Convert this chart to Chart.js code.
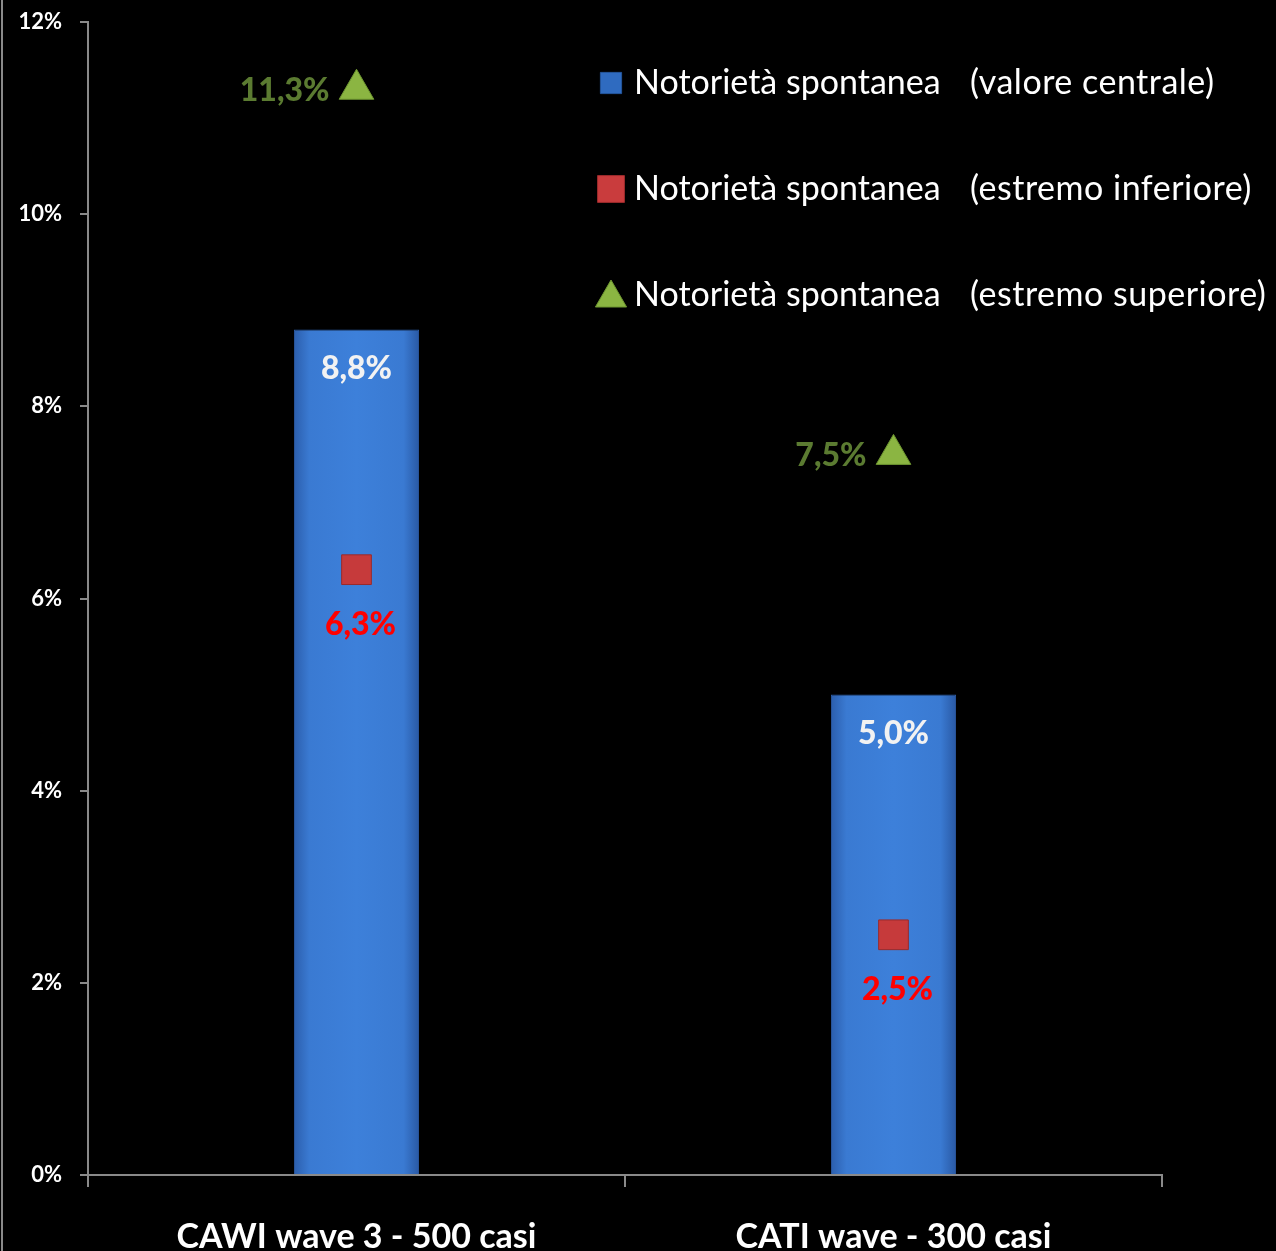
<!DOCTYPE html>
<html>
<head>
<meta charset="utf-8">
<script src="https://cdn.jsdelivr.net/npm/chart.js@4.4.1/dist/chart.umd.min.js"></script>
<style>
    html, body { margin: 0; padding: 0; background: #000; }
    canvas { display: block; }
</style>
</head>
<body>
<canvas id="notorieta" width="1276" height="1251"></canvas>
<script>
// ========================================
// DATA
// ========================================
const categories = ['CAWI wave 3 - 500 casi', 'CATI wave - 300 casi'];
const centralValues = [8.8, 5.0];   // valore centrale (barre)
const lowerValues = [6.3, 2.5];     // estremo inferiore
const upperValues = [11.3, 7.5];    // estremo superiore
const seriesName = 'Notorietà spontanea';
const seriesNotes = ['(valore centrale)', '(estremo inferiore)', '(estremo superiore)'];
const yMax = 12;
const yStep = 2;

const FONT = 'Lato, "Open Sans", sans-serif';

// Format numbers the Italian way: 8.8 -> "8,8%"
function formatPct(v) {
    return v.toFixed(1).replace('.', ',') + '%';
}

// Horizontal gradient for the bars (darker edges, lighter middle)
function barGradient(context) {
    const chart = context.chart;
    if (!chart.chartArea || context.dataIndex === undefined) return '#3a7bd5';
    const x = chart.scales.x.getPixelForValue(context.dataIndex);
    const w = 62;
    const g = chart.ctx.createLinearGradient(x - w, 0, x + w, 0);
    g.addColorStop(0, '#2c5fae');
    g.addColorStop(0.12, '#3a7ad2');
    g.addColorStop(0.5, '#3d80da');
    g.addColorStop(0.88, '#3a7ad2');
    g.addColorStop(1, '#2a5aa6');
    return g;
}

// Black background plus the thin frame line on the left
const backgroundPlugin = {
    id: 'background',
    beforeDraw(chart) {
        const ctx = chart.ctx;
        ctx.save();
        ctx.fillStyle = '#000';
        ctx.fillRect(0, 0, chart.width, chart.height);
        ctx.strokeStyle = '#8a8a8a';
        ctx.lineWidth = 2;
        ctx.beginPath();
        ctx.moveTo(2, 0);
        ctx.lineTo(2, chart.height);
        ctx.stroke();
        ctx.restore();
    }
};

// Value labels for bars and markers
const labelsPlugin = {
    id: 'valueLabels',
    afterDatasetsDraw(chart) {
        const ctx = chart.ctx;
        ctx.save();
        ctx.font = '900 32px ' + FONT;
        ctx.textBaseline = 'middle';

        chart.getDatasetMeta(0).data.forEach((bar, i) => {
            ctx.fillStyle = '#f2f2f2';
            ctx.textAlign = 'center';
            ctx.fillText(formatPct(centralValues[i]), bar.x, bar.y + 39);
        });

        chart.getDatasetMeta(1).data.forEach((pt, i) => {
            ctx.fillStyle = '#ff0000';
            ctx.textAlign = 'center';
            ctx.fillText(formatPct(lowerValues[i]), pt.x + 4, pt.y + 55);
        });

        chart.getDatasetMeta(2).data.forEach((pt, i) => {
            ctx.fillStyle = '#5b7b31';
            ctx.textAlign = 'right';
            ctx.fillText(formatPct(upperValues[i]), pt.x - 27, pt.y + 1);
        });
        ctx.restore();
    }
};

// Legend drawn in the upper right of the plot
const legendPlugin = {
    id: 'sideLegend',
    afterDraw(chart) {
        const ctx = chart.ctx;
        const rows = [83, 189, 295];
        const styles = [
            { style: 'rect', radius: 15, fill: '#2f6bc0', border: '#24559c' },
            { style: 'rect', radius: 19, fill: '#c93c3d', border: '#9d2b2c' },
            { style: 'triangle', radius: 18, fill: '#8bb542', border: '#6d9530' }
        ];
        ctx.save();
        rows.forEach((y, i) => {
            const s = styles[i];
            ctx.fillStyle = s.fill;
            ctx.strokeStyle = s.border;
            ctx.lineWidth = 1;
            Chart.helpers.drawPoint(ctx, { pointStyle: s.style, radius: s.radius, borderWidth: 1, rotation: 0 }, 611, i === 2 ? y + 3 : y);
            ctx.fillStyle = '#ffffff';
            ctx.font = '34px ' + FONT;
            ctx.textAlign = 'left';
            ctx.textBaseline = 'middle';
            ctx.fillText(seriesName, 634, y);
            ctx.letterSpacing = '0.5px';
            ctx.fillText(seriesNotes[i], 970, y);
            ctx.letterSpacing = '0px';
        });
        ctx.restore();
    }
};

new Chart(document.getElementById('notorieta'), {
    data: {
        labels: categories,
        datasets: [
            {
                type: 'bar',
                label: seriesName + ' ' + seriesNotes[0],
                data: centralValues,
                backgroundColor: barGradient,
                borderColor: '#2a58a0',
                borderWidth: 1,
                categoryPercentage: 1,
                barPercentage: 0.233,
                order: 3
            },
            {
                type: 'line',
                label: seriesName + ' ' + seriesNotes[1],
                data: lowerValues,
                showLine: false,
                pointStyle: 'rect',
                pointRadius: 21,
                pointBackgroundColor: '#c63a3b',
                pointBorderColor: '#9a2a2b',
                pointBorderWidth: 1,
                order: 1
            },
            {
                type: 'line',
                label: seriesName + ' ' + seriesNotes[2],
                data: upperValues,
                showLine: false,
                pointStyle: 'triangle',
                pointRadius: 20,
                pointBackgroundColor: '#8bb542',
                pointBorderColor: '#6d9530',
                pointBorderWidth: 1,
                order: 2
            }
        ]
    },
    options: {
        responsive: false,
        animation: false,
        layout: { padding: { top: 14, right: 114, left: 0, bottom: 0 } },
        plugins: {
            legend: { display: false },
            tooltip: { enabled: false }
        },
        scales: {
            x: {
                offset: true,
                grid: {
                    offset: true,
                    drawOnChartArea: false,
                    drawTicks: true,
                    tickLength: 12,
                    color: '#8a8a8a',
                    lineWidth: 2
                },
                border: { display: true, color: '#8a8a8a', width: 2 },
                ticks: {
                    color: '#ffffff',
                    font: { family: FONT, size: 34, weight: 'bold' },
                    padding: 30,
                    maxRotation: 0
                },
                afterFit(scale) { scale.height = 76; }
            },
            y: {
                min: 0,
                max: yMax,
                ticks: {
                    stepSize: yStep,
                    color: '#ffffff',
                    font: { family: FONT, size: 22, weight: 'bold' },
                    padding: 18,
                    callback: v => v + '%'
                },
                grid: {
                    drawOnChartArea: false,
                    drawTicks: true,
                    tickLength: 8,
                    color: '#8a8a8a',
                    lineWidth: 2
                },
                border: { display: true, color: '#8a8a8a', width: 2 },
                afterFit(scale) {
                    scale.width = 88;
                    scale.paddingTop = 0;
                    scale.paddingBottom = 0;
                }
            }
        }
    },
    plugins: [backgroundPlugin, labelsPlugin, legendPlugin]
});
</script>
</body>
</html>
